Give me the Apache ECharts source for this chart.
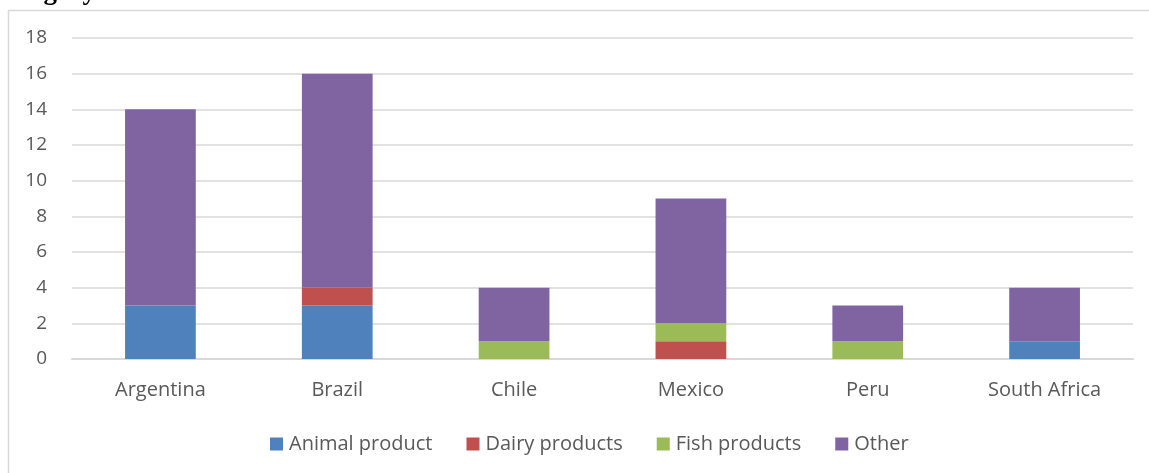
<!DOCTYPE html>
<html><head><meta charset="utf-8">
<script src="https://cdn.jsdelivr.net/npm/echarts@6/dist/echarts.min.js"></script>
<style>html,body{margin:0;padding:0;background:#fff;}#c{width:1149px;height:473px;}</style>
</head><body><div id="c"></div>
<script>
const categories = ['Argentina','Brazil','Chile','Mexico','Peru','South Africa'];
const animalProduct = [3,3,0,0,0,1];
const dairyProducts = [0,1,0,1,0,0];
const fishProducts = [0,0,1,1,1,0];
const other = [11,12,3,7,2,3];
const seriesNames = ['Animal product','Dairy products','Fish products','Other'];
const colors = ['#4F81BD','#C0504D','#9BBB59','#8064A2'];
const font = '"Open Sans", "Liberation Sans", Arial, sans-serif';
const chart = echarts.init(document.getElementById('c'));
const dataSets = [animalProduct, dairyProducts, fishProducts, other];
chart.setOption({
  animation:false,
  color:colors,
  graphic:[
    {type:'rect', shape:{x:8.5,y:10.5,width:1150,height:480}, style:{fill:'none',stroke:'#d9d9d9',lineWidth:1.5}},
    {type:'text', left:-3, top:-21, style:{text:'category', fontFamily:'Liberation Serif', fontWeight:'bold', fontSize:27, fill:'#000'}}
  ],
  grid:{left:72,right:16,top:38,bottom:114},
  legend:{bottom:14,left:265,itemWidth:13,itemHeight:13,itemGap:34,icon:'rect',
    textStyle:{fontFamily:font,fontSize:20,color:'#595959',padding:[0,0,0,1]},data:seriesNames},
  xAxis:{type:'category',data:categories,axisTick:{show:false},
    axisLine:{lineStyle:{color:'#d9d9d9',width:2}},
    axisLabel:{fontFamily:font,fontSize:20,color:'#595959',margin:21}},
  yAxis:{type:'value',min:0,max:18,interval:2,
    axisLabel:{fontFamily:font,fontSize:19,color:'#595959',margin:25},
    splitLine:{lineStyle:{color:'#d9d9d9',width:1.5}}},
  series: seriesNames.map((n,i)=>({name:n,type:'bar',stack:'s',barWidth:'40%',data:dataSets[i]}))
});
</script></body></html>
